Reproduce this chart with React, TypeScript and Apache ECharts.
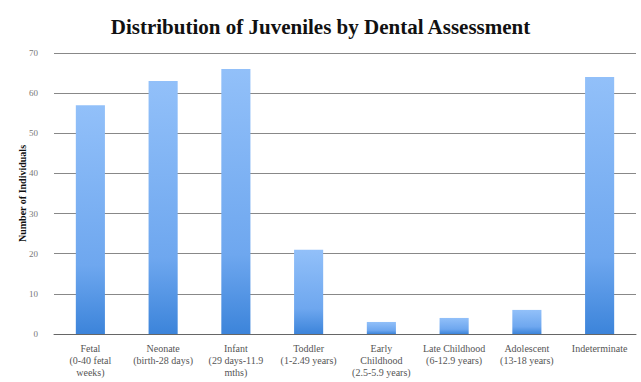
import React, { useEffect, useRef } from "react";
import * as echarts from "echarts";

const categories = [
  "Fetal\n(0-40 fetal\nweeks)",
  "Neonate\n(birth-28 days)",
  "Infant\n(29 days-11.9\nmths)",
  "Toddler\n(1-2.49 years)",
  "Early\nChildhood\n(2.5-5.9 years)",
  "Late Childhood\n(6-12.9 years)",
  "Adolescent\n(13-18 years)",
  "Indeterminate",
];
const counts = [57, 63, 66, 21, 3, 4, 6, 64];
const yTicks = { min: 0, max: 70, interval: 10 };

const FONT = "Liberation Serif";

export default function App() {
  const ref = useRef<HTMLDivElement>(null);
  useEffect(() => {
    if (!ref.current) return;
    const chart = echarts.init(ref.current, null, { renderer: "svg" });
    chart.setOption({
      animation: false,
      backgroundColor: "#ffffff",
      textStyle: { fontFamily: FONT },
      title: {
        text: "Distribution of Juveniles by Dental Assessment",
        left: "center",
        top: 11,
        textStyle: { fontFamily: FONT, fontSize: 21, fontWeight: "bold", color: "#111" },
      },
      grid: { left: 54, right: 5, top: 53, bottom: 48, containLabel: false },
      xAxis: {
        type: "category",
        data: categories,
        axisTick: { show: false },
        axisLine: { lineStyle: { color: "#666", width: 1 } },
        axisLabel: {
          interval: 0,
          fontFamily: FONT,
          fontSize: 10,
          color: "#555",
          lineHeight: 12,
          margin: 8,
        },
      },
      yAxis: {
        type: "value",
        min: yTicks.min,
        max: yTicks.max,
        interval: yTicks.interval,
        name: "Number of Individuals",
        nameLocation: "middle",
        nameGap: 27,
        nameMoveOverlap: false,
        nameTextStyle: { fontFamily: FONT, fontSize: 10, color: "#111", fontWeight: "bold" },
        axisLine: { show: false },
        axisTick: { show: false },
        axisLabel: { fontFamily: FONT, fontSize: 9, color: "#777", margin: 16 },
        splitLine: { lineStyle: { color: "#888", width: 1 } },
      },
      series: [
        {
          type: "bar",
          data: counts,
          barWidth: "40%",
          itemStyle: {
            color: new echarts.graphic.LinearGradient(0, 0, 0, 1, [
              { offset: 0, color: "#92c0f9" },
              { offset: 0.7, color: "#6ea7ef" },
              { offset: 1, color: "#3c84da" },
            ]),
          },
        },
      ],
    });
    return () => chart.dispose();
  }, []);
  return <div ref={ref} style={{ width: 641, height: 382, position: "absolute", left: 0, top: 0 }} />;
}
